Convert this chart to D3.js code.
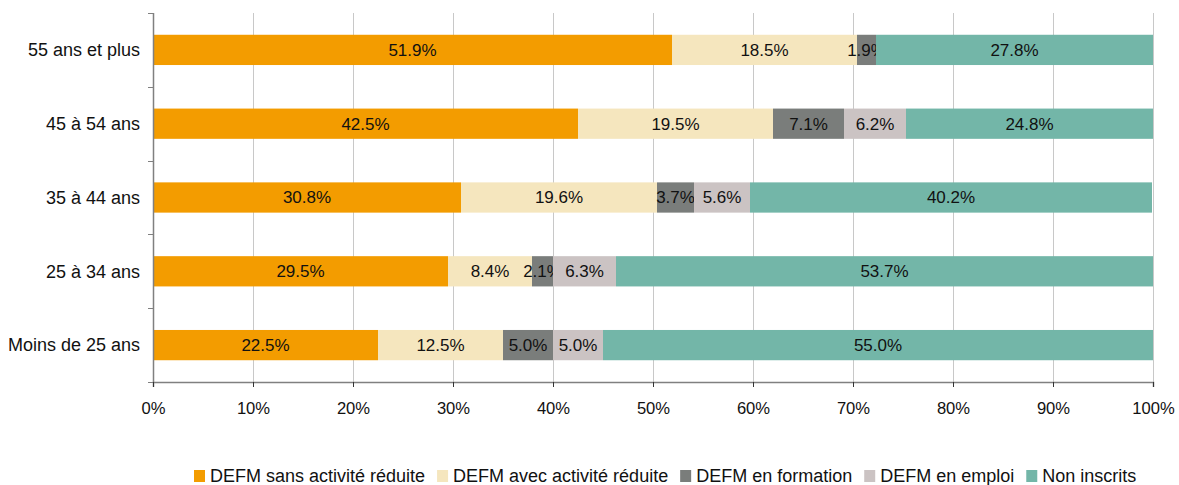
<!DOCTYPE html>
<html lang="fr">
  <head>
    <meta charset="utf-8">
    <title>DEFM par tranche d'age</title>
    <script src="https://d3js.org/d3.v7.min.js"></script>
    <style type="text/css">
body,html{
    margin: 0;
    padding: 0;
    background: #fff;
    font-family: Arial, "Liberation Sans", sans-serif;
  }
    </style>
  </head>
  <body>
    <script type="text/javascript">
      const w = 1179;
      const h = 485;

      // categories, top to bottom
      const ages = ["55 ans et plus", "45 à 54 ans", "35 à 44 ans", "25 à 34 ans", "Moins de 25 ans"];
      const seriesNames = ["DEFM sans activité réduite", "DEFM avec activité réduite", "DEFM en formation", "DEFM en emploi", "Non inscrits"];
      const colors = ["#f39c00", "#f5e6be", "#7a7d7b", "#cbc3c3", "#73b6a8"];

      // values per series (same order as ages)
      const sansActivite = [51.9, 42.5, 30.8, 29.5, 22.5];
      const avecActivite = [18.5, 19.5, 19.6, 8.4, 12.5];
      const enFormation  = [1.9, 7.1, 3.7, 2.1, 5.0];
      const enEmploi     = [0, 6.2, 5.6, 6.3, 5.0];
      const nonInscrits  = [27.8, 24.8, 40.2, 53.7, 55.0];
      const xTicks = [0, 10, 20, 30, 40, 50, 60, 70, 80, 90, 100];

      const allSeries = [sansActivite, avecActivite, enFormation, enEmploi, nonInscrits];

      const margin = {top: 13, left: 153, right: 26, bottom: 103};
      const innerW = w - margin.left - margin.right;
      const innerH = h - margin.top - margin.bottom;

      const svg = d3.select("body")
        .append("svg")
        .attr("width", w)
        .attr("height", h);

      const g = svg.append("g")
        .attr("transform", "translate(" + margin.left + "," + margin.top + ")");

      const x = d3.scaleLinear().domain([0, 100]).range([0, innerW]);
      const y = d3.scaleBand().domain(ages).range([0, innerH]).paddingInner(0.59).paddingOuter(0.295);

      // gridlines
      g.selectAll("line.grid")
        .data(xTicks.slice(1))
        .enter()
        .append("line")
        .attr("class", "grid")
        .attr("x1", d => x(d) + 0.5)
        .attr("x2", d => x(d) + 0.5)
        .attr("y1", 0)
        .attr("y2", innerH)
        .attr("stroke", "#c8c8c8")
        .attr("stroke-width", 1);

      // build stacked rows
      const rows = ages.map((a, i) => {
        const o = {age: a};
        seriesNames.forEach((s, j) => o[s] = allSeries[j][i]);
        return o;
      });
      const stacked = d3.stack().keys(seriesNames)(rows);

      const layer = g.selectAll("g.layer")
        .data(stacked)
        .enter()
        .append("g")
        .attr("class", "layer")
        .attr("fill", (d, i) => colors[i]);

      layer.selectAll("rect")
        .data(d => d)
        .enter()
        .append("rect")
        .attr("x", d => x(Math.min(d[0], 100)))
        .attr("width", d => Math.max(0, x(Math.min(d[1], 100)) - x(Math.min(d[0], 100))))
        .attr("y", d => y(d.data.age))
        .attr("height", y.bandwidth());

      layer.selectAll("text")
        .data(d => d.filter(p => p[1] - p[0] > 0))
        .enter()
        .append("text")
        .attr("x", d => x((Math.min(d[0], 100) + Math.min(d[1], 100)) / 2))
        .attr("y", d => y(d.data.age) + y.bandwidth() / 2)
        .attr("dy", "0.35em")
        .attr("text-anchor", "middle")
        .attr("font-size", 17)
        .attr("fill", "#111")
        .text(d => (d[1] - d[0]).toFixed(1) + "%");

      // y axis
      const yEdges = ages.map(a => y(a) - y.step() * y.paddingInner() / 2).concat([innerH]);
      g.append("line")
        .attr("x1", 0.5).attr("x2", 0.5)
        .attr("y1", 0).attr("y2", innerH)
        .attr("stroke", "#808080").attr("stroke-width", 1.5);
      g.selectAll("line.ytick")
        .data(yEdges)
        .enter()
        .append("line")
        .attr("class", "ytick")
        .attr("x1", -5).attr("x2", 0)
        .attr("y1", d => Math.round(d) + 0.5)
        .attr("y2", d => Math.round(d) + 0.5)
        .attr("stroke", "#808080");
      g.selectAll("text.ylab")
        .data(ages)
        .enter()
        .append("text")
        .attr("class", "ylab")
        .attr("x", -13)
        .attr("y", d => y(d) + y.bandwidth() / 2)
        .attr("dy", "0.35em")
        .attr("text-anchor", "end")
        .attr("font-size", 18)
        .attr("fill", "#111")
        .text(d => d);

      // x axis
      const xAxis = d3.axisBottom(x)
        .tickValues(xTicks)
        .tickSize(5)
        .tickPadding(15)
        .tickFormat(d => d + "%");
      const xg = g.append("g")
        .attr("transform", "translate(0," + innerH + ")")
        .call(xAxis);
      xg.select(".domain").attr("stroke", "#808080").attr("stroke-width", 1.5);
      xg.selectAll(".tick line").attr("stroke", "#333");
      xg.selectAll(".tick text")
        .attr("font-size", 16.6)
        .attr("font-family", "Arial, 'Liberation Sans', sans-serif")
        .attr("fill", "#111");

      // legend
      const legend = svg.append("g").attr("transform", "translate(0,476)");
      let lx = 194;
      seriesNames.forEach((s, i) => {
        const item = legend.append("g").attr("transform", "translate(" + lx + ",0)");
        item.append("rect")
          .attr("x", 0).attr("y", -6)
          .attr("width", 11).attr("height", 12)
          .attr("fill", colors[i]);
        const t = item.append("text")
          .attr("x", 16)
          .attr("y", 0)
          .attr("dy", "0.35em")
          .attr("font-size", 18)
          .attr("fill", "#111")
          .text(s);
        lx += 16 + t.node().getComputedTextLength() + 12;
      });
    </script>
  </body>
</html>
